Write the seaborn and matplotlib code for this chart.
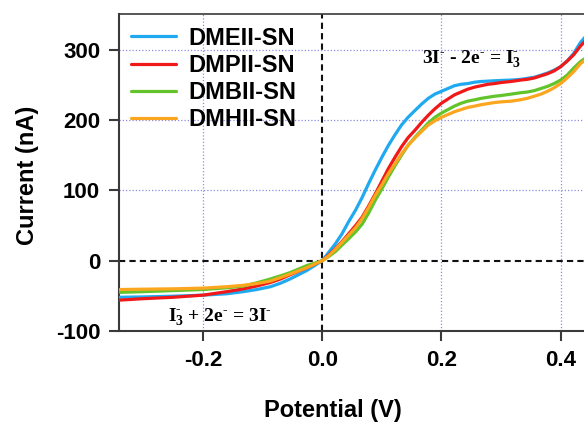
import numpy as np
import pandas as pd
import matplotlib
matplotlib.use("Agg")
import matplotlib.pyplot as plt
import seaborn as sns

# Linear sweep voltammetry of the four SN electrolytes
series_names = ["DMEII-SN", "DMPII-SN", "DMBII-SN", "DMHII-SN"]
series_colors = ["#1FA9F0", "#F01818", "#62C42A", "#FBA61E"]

# shared potential grid (V)
potential = [-0.339, -0.3, -0.25, -0.2, -0.16, -0.132, -0.11, -0.087, -0.07, -0.054,
             -0.04, -0.026, -0.013, 0.0,
             0.011, 0.022, 0.033, 0.044, 0.056, 0.067, 0.078, 0.089, 0.100, 0.111,
             0.122, 0.133, 0.144, 0.156, 0.167, 0.178, 0.189, 0.2, 0.211, 0.222,
             0.233, 0.244, 0.256, 0.267, 0.278, 0.289, 0.3, 0.317, 0.333, 0.344,
             0.356, 0.367, 0.378, 0.389, 0.4, 0.411, 0.422, 0.433, 0.445]

# current (nA)
current_dmeii = [-52, -51.5, -50.5, -49, -47, -44, -41, -37, -32, -26,
                 -20, -14, -7, 0,
                 12, 24, 38, 55, 72, 90, 110, 129, 147, 164,
                 179, 193, 204, 214, 223, 231, 237, 241, 245, 249,
                 251, 252, 254, 255, 255.5, 256, 256.5, 257, 258, 259.5,
                 261, 264, 267, 271, 276, 284, 295, 310, 322]
current_dmpii = [-56, -54, -52, -49, -44, -40, -36, -31, -26, -20,
                 -15, -10, -5, 0,
                 8, 17, 27, 38, 50, 62, 78, 95, 113, 131,
                 147, 162, 175, 186, 197, 207, 216, 224, 230, 236,
                 240, 244, 247, 249, 251, 252, 253.5, 255, 257, 258,
                 260, 263, 266, 270, 276, 284, 293, 305, 316]
current_dmbii = [-45, -44, -42.5, -41, -38.5, -36, -31.5, -26, -21.5, -17,
                 -12, -7, -3.5, 0,
                 6, 13, 22, 31, 41, 52, 68, 86, 102, 119,
                 135, 150, 164, 176, 186, 196, 204, 210, 215, 220,
                 224, 227, 229, 231, 232.5, 234, 235, 237, 239, 240,
                 242, 245, 248, 252, 257, 264, 274, 283, 290]
current_dmhii = [-41, -40.5, -40, -39, -37, -35, -32.5, -29, -24, -19,
                 -14.5, -10, -5, 0,
                 7, 16, 26, 36, 47, 60, 76, 93, 108, 124,
                 138, 152, 164, 175, 184, 193, 199, 204, 208, 212,
                 215, 218, 220, 222, 223.5, 225, 226, 227, 229, 231,
                 234, 237, 241, 246, 252, 260, 269, 280, 288]

x_ticks = [-0.2, 0.0, 0.2, 0.4]
y_ticks = [-100, 0, 100, 200, 300]

frames = []
for name, ys in zip(series_names, [current_dmeii, current_dmpii, current_dmbii, current_dmhii]):
    frames.append(pd.DataFrame({"Potential": potential, "Current": ys, "Electrolyte": name}))
df = pd.concat(frames, ignore_index=True)

sns.set_style("white")
plt.rcParams["font.family"] = ["Liberation Sans", "DejaVu Sans"]
plt.rcParams["font.weight"] = "bold"
plt.rcParams["axes.unicode_minus"] = False
plt.rcParams["text.color"] = "black"
plt.rcParams["axes.labelcolor"] = "black"
plt.rcParams["xtick.color"] = "black"
plt.rcParams["ytick.color"] = "black"
plt.rcParams["mathtext.fontset"] = "custom"
plt.rcParams["mathtext.rm"] = "Liberation Serif:bold"
plt.rcParams["mathtext.bf"] = "Liberation Serif:bold"
plt.rcParams["mathtext.it"] = "Liberation Serif:bold"

fig = plt.figure(figsize=(5.84, 4.23), dpi=100)
ax = fig.add_axes([119 / 584, 92 / 423, 479 / 584, 317 / 423])

# reference grid and zero lines
for xv in x_ticks:
    if xv != 0:
        ax.axvline(xv, color="#8C8CE6", lw=0.9, ls=(0, (1, 1.6)), zorder=0)
for yv in y_ticks:
    if yv not in (0, -100):
        ax.axhline(yv, color="#8C8CE6", lw=0.9, ls=(0, (1, 1.6)), zorder=0)
ax.axvline(0, color="#111111", lw=1.5, ls=(0, (3, 2)), zorder=1)
ax.axhline(0, color="#111111", lw=1.5, ls=(0, (3, 2)), zorder=1)

sns.lineplot(data=df, x="Potential", y="Current", hue="Electrolyte",
             hue_order=series_names, palette=series_colors, sort=False,
             estimator=None, linewidth=2.3, ax=ax, zorder=3)

ax.set_xlim(-0.341, 0.4628)
ax.set_ylim(-100, 351)
ax.set_xticks(x_ticks)
ax.set_xticklabels([f"{v:.1f}" for v in x_ticks])
ax.set_yticks(y_ticks)

for side in ["left", "bottom", "top", "right"]:
    ax.spines[side].set_color("#3A3A3A")
    ax.spines[side].set_linewidth(1.5)
ax.spines["top"].set_linewidth(1.2)

ax.tick_params(axis="both", which="major", direction="out", length=7.5, width=1.5,
               color="#3A3A3A", labelcolor="black", labelsize=16, pad=6,
               bottom=True, left=True, top=False, right=False)
for lbl in ax.get_xticklabels() + ax.get_yticklabels():
    lbl.set_fontweight("bold")

ax.set_xlabel("Potential (V)", fontsize=17, fontweight="bold")
ax.set_ylabel("Current (nA)", fontsize=17, fontweight="bold")
ax.xaxis.set_label_coords(0.447, -0.215)
ax.yaxis.set_label_coords(-0.168, 0.49)

serif = {"family": "Liberation Serif", "weight": "bold", "size": 14}
ax.text(0.168, 280, r"3I$^{\text{-}}$ - 2e$^{\text{-}}$ = I$_{3}^{\text{-}}$", fontdict=serif,
        ha="left", va="baseline", zorder=4)
ax.text(-0.259, -86, r"I$_{3}^{\text{-}}$ + 2e$^{\text{-}}$ = 3I$^{\text{-}}$", fontdict=serif,
        ha="left", va="baseline", zorder=4)

leg = ax.legend(loc="upper left", bbox_to_anchor=(0.025, 0.96), frameon=False,
                prop={"size": 17, "weight": "bold"}, handlelength=1.9,
                handletextpad=0.55, labelspacing=0.18, borderpad=0,
                borderaxespad=0)
for line in leg.get_lines():
    line.set_linewidth(2.3)

fig.savefig("out.png", dpi=100)
